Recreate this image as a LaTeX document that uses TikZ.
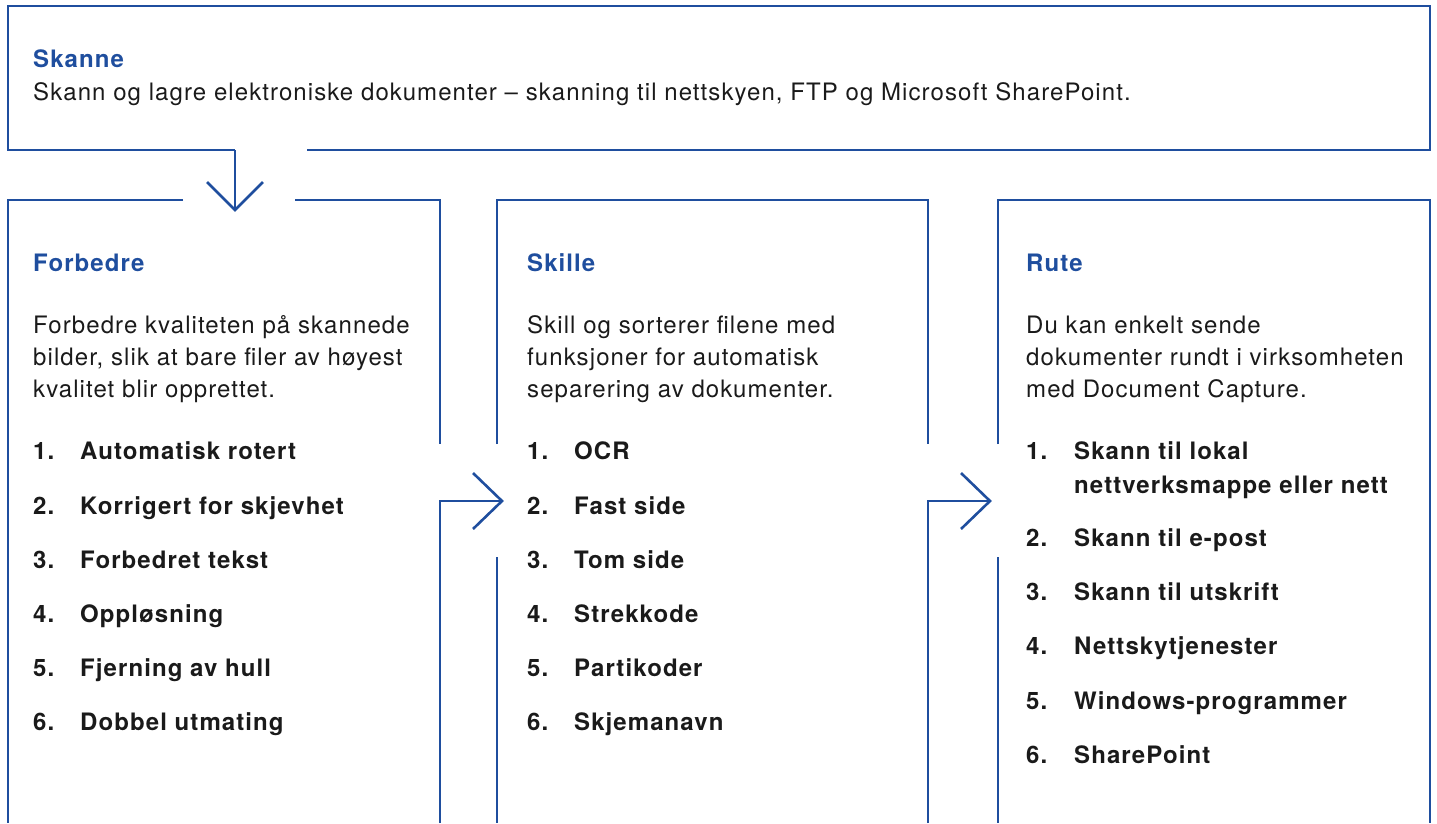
\documentclass[tikz,border=0pt]{standalone}
\usepackage{fontspec}
\setmainfont{TeX Gyre Heros}[LetterSpace=4.5]
\definecolor{scanblue}{HTML}{1F4E9E}
\definecolor{inkgray}{HTML}{1A1A1A}

\begin{document}
\begin{tikzpicture}[x=1pt, y=-1pt, frame/.style={draw=scanblue, line width=2.6pt, line join=miter},
    head/.style={anchor=base west, inner sep=0pt, text=scanblue, font=\fontsize{24}{32}\selectfont\bfseries},
    body/.style={anchor=base west, inner sep=0pt, text=inkgray, align=left, font=\fontsize{24}{32}\selectfont},
    item/.style={anchor=base west, inner sep=0pt, text=inkgray, align=left, font=\fontsize{24}{34}\selectfont\bfseries}]
    \useasboundingbox (0,0) rectangle (1437,823);

    \coordinate (dn tip) at (235,210);
    \coordinate (rt tip1) at (502,501);
    \coordinate (rt tip2) at (990,501);

    % Skanne
    \draw[frame] (235,150) -- (8,150) -- (8,6) -- (1430,6) -- (1430,150) -- (307,150);
    \draw[frame] (235,150) -- (dn tip);
    \draw[frame] (dn tip) ++(-28,-28) -- (dn tip) -- ++(28,-28);
    \node[head] (skanne) at (33,67) {Skanne};
    \node[body] (skanne text) at (33,100) {Skann og lagre elektroniske dokumenter – skanning til nettskyen, FTP og Microsoft SharePoint.};

    % Forbedre
    \draw[frame] (183,200) -- (8,200) -- (8,823);
    \draw[frame] (295,200) -- (440,200) -- (440,444);
    \draw[frame] (440,823) -- (440,501) -- (rt tip1);
    \draw[frame] (rt tip1) ++(-29,-28) -- (rt tip1) -- ++(-29,28);
    \node[head] (forbedre) at (33,271) {Forbedre};
    \node[body] (forbedre text) at (33,397) {Forbedre kvaliteten på skannede\\bilder, slik at bare filer av høyest\\kvalitet blir opprettet.};
    \node[item] (f1) at (33,459) {1.};  \node[item] (f1 text) at (80,459) {Automatisk rotert};
    \node[item] (f2) at (33,514) {2.};  \node[item] (f2 text) at (80,514) {Korrigert for skjevhet};
    \node[item] (f3) at (33,568) {3.};  \node[item] (f3 text) at (80,568) {Forbedret tekst};
    \node[item] (f4) at (33,622) {4.};  \node[item] (f4 text) at (80,622) {Oppløsning};
    \node[item] (f5) at (33,676) {5.};  \node[item] (f5 text) at (80,676) {Fjerning av hull};
    \node[item] (f6) at (33,730) {6.};  \node[item] (f6 text) at (80,730) {Dobbel utmating};

    % Skille
    \draw[frame] (497,444) -- (497,200) -- (928,200) -- (928,444);
    \draw[frame] (497,557) -- (497,823);
    \draw[frame] (928,823) -- (928,501) -- (rt tip2);
    \draw[frame] (rt tip2) ++(-29,-28) -- (rt tip2) -- ++(-29,28);
    \node[head] (skille) at (527,271) {Skille};
    \node[body] (skille text) at (527,397) {Skill og sorterer filene med\\funksjoner for automatisk\\separering av dokumenter.};
    \node[item] (s1) at (527,459) {1.};  \node[item] (s1 text) at (574,459) {OCR};
    \node[item] (s2) at (527,514) {2.};  \node[item] (s2 text) at (574,514) {Fast side};
    \node[item] (s3) at (527,568) {3.};  \node[item] (s3 text) at (574,568) {Tom side};
    \node[item] (s4) at (527,622) {4.};  \node[item] (s4 text) at (574,622) {Strekkode};
    \node[item] (s5) at (527,676) {5.};  \node[item] (s5 text) at (574,676) {Partikoder};
    \node[item] (s6) at (527,730) {6.};  \node[item] (s6 text) at (574,730) {Skjemanavn};

    % Rute
    \draw[frame] (998,444) -- (998,200) -- (1430,200) -- (1430,823);
    \draw[frame] (998,557) -- (998,823);
    \node[head] (rute) at (1026,271) {Rute};
    \node[body] (rute text) at (1026,397) {Du kan enkelt sende\\dokumenter rundt i virksomheten\\med Document Capture.};
    \node[item] (r1) at (1026,459) {1.};  \node[item] (r1 text) at (1074,493) {Skann til lokal\\nettverksmappe eller nett};
    \node[item] (r2) at (1026,546) {2.};  \node[item] (r2 text) at (1074,546) {Skann til e-post};
    \node[item] (r3) at (1026,600) {3.};  \node[item] (r3 text) at (1074,600) {Skann til utskrift};
    \node[item] (r4) at (1026,654) {4.};  \node[item] (r4 text) at (1074,654) {Nettskytjenester};
    \node[item] (r5) at (1026,709) {5.};  \node[item] (r5 text) at (1074,709) {Windows-programmer};
    \node[item] (r6) at (1026,763) {6.};  \node[item] (r6 text) at (1074,763) {SharePoint};
\end{tikzpicture}
\end{document}
